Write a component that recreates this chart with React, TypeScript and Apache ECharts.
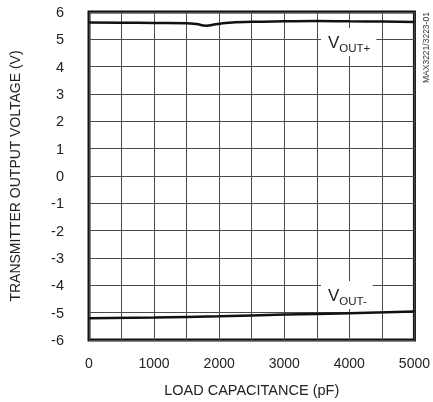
import React, { useEffect, useRef } from "react";
import * as echarts from "echarts";

const capPlus = [0, 500, 1000, 1500, 1650, 1800, 1950, 2100, 2500, 3000, 3500, 4000, 4500, 5000];
const voutPlus = [5.62, 5.61, 5.6, 5.59, 5.56, 5.5, 5.55, 5.6, 5.64, 5.66, 5.67, 5.66, 5.65, 5.63];
const capMinus = [0, 1000, 2000, 3000, 4000, 5000];
const voutMinus = [-5.2, -5.18, -5.13, -5.07, -5.02, -4.96];
const xTitle = "LOAD CAPACITANCE (pF)";
const yTitle = "TRANSMITTER OUTPUT VOLTAGE (V)";
const sideNote = "MAX3221/3223-01";

const FONT = "'Liberation Sans', Arial, sans-serif";

export default function App() {
  const ref = useRef<HTMLDivElement>(null);
  useEffect(() => {
    const chart = echarts.init(ref.current!, null, { renderer: "svg" });
    const label = (sub: string) => ({
      text: "{v|V}{s|" + sub + "}",
      rich: {
        v: { fontSize: 17, fontFamily: FONT, fill: "#222", verticalAlign: "bottom", lineHeight: 18 },
        s: { fontSize: 11.5, fontFamily: FONT, fill: "#222", verticalAlign: "bottom", lineHeight: 18, padding: [0, 0, -3, 0] },
      },
      backgroundColor: "#fff",
      padding: [5, 6, 5, 7],
    });
    chart.setOption({
      animation: false,
      grid: { left: 89, right: 16, top: 12, bottom: 62, show: true, borderColor: "#111", borderWidth: 3 },
      xAxis: {
        type: "value",
        min: 0,
        max: 5000,
        interval: 500,
        name: xTitle,
        nameLocation: "middle",
        nameGap: 42,
        nameTextStyle: { fontSize: 14.5, fontFamily: FONT, color: "#222" },
        axisLine: { show: false },
        axisTick: { show: false },
        axisLabel: {
          formatter: (v: number) => (v % 1000 === 0 ? String(v) : ""),
          fontSize: 14,
          fontFamily: FONT,
          color: "#222",
          margin: 16,
        },
        splitLine: { lineStyle: { color: "#4a4a4a", width: 1 } },
      },
      yAxis: {
        type: "value",
        min: -6,
        max: 6,
        interval: 1,
        name: yTitle,
        nameLocation: "middle",
        nameGap: 67,
        nameRotate: 90,
        nameTextStyle: { fontSize: 14, fontFamily: FONT, color: "#222" },
        axisLine: { show: false },
        axisTick: { show: false },
        axisLabel: { fontSize: 14.5, fontFamily: FONT, color: "#222", margin: 25 },
        splitLine: { lineStyle: { color: "#4a4a4a", width: 1 } },
      },
      series: [
        {
          type: "line",
          data: capPlus.map((c, i) => [c, voutPlus[i]]),
          smooth: true,
          symbol: "none",
          lineStyle: { color: "#111", width: 2.5 },
        },
        {
          type: "line",
          data: capMinus.map((c, i) => [c, voutMinus[i]]),
          smooth: true,
          symbol: "none",
          lineStyle: { color: "#111", width: 2.5 },
        },
      ],
      graphic: [
        { type: "text", left: 321, top: 28, z: 10, style: label("OUT+") },
        { type: "text", left: 321, top: 281, z: 10, style: label("OUT-") },
        {
          type: "text",
          x: 426,
          y: 83,
          rotation: Math.PI / 2,
          style: { text: sideNote, fontSize: 8.5, fontFamily: FONT, fill: "#333", align: "left", verticalAlign: "middle" },
        },
      ],
    });
    return () => chart.dispose();
  }, []);
  return <div ref={ref} style={{ position: "fixed", left: 0, top: 0, width: 433, height: 402 }} />;
}
